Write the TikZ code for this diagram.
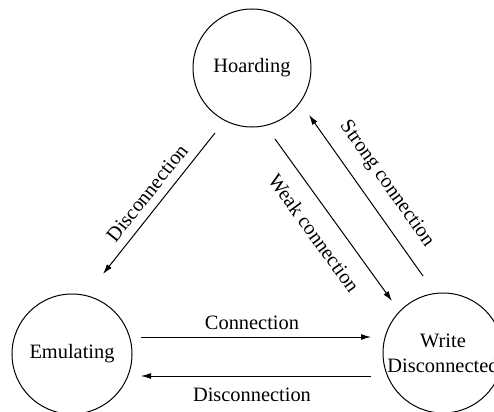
\documentclass[tikz,border=0pt]{standalone}
\usepackage{fontspec}
\setmainfont{Liberation Serif}
\usetikzlibrary{arrows.meta}
\begin{document}
\begin{tikzpicture}[x=0.5pt,y=-0.5pt,
  font=\fontsize{10.2}{12.5}\selectfont,
  state/.style={draw,circle,line width=0.5pt,minimum size=59pt,inner sep=0pt,align=center},
  trans/.style={line width=0.5pt,-{Latex[length=5pt,width=3pt]}},
  lbl/.style={inner sep=0pt}]
\useasboundingbox (0,0) rectangle (494,412);
\clip (0,0) rectangle (494,412);
% states
\node[state,minimum size=59pt] (H) at (252,68) {Hoarding};
\node[state,minimum size=60pt] (E) at (72,354) {Emulating};
\node[state,minimum size=60pt] (W) at (443,353) {Write\\Disconnected};
% end points of the transitions
\coordinate (hd1) at (215,133); \coordinate (hd2) at (103,274);
\coordinate (hw1) at (275,139); \coordinate (hw2) at (392,301);
\coordinate (wh1) at (423,276); \coordinate (wh2) at (309,115);
\coordinate (ew1) at (141,337); \coordinate (ew2) at (371,337);
\coordinate (we1) at (371,376); \coordinate (we2) at (141,376);
% transitions
\draw[trans] (hd1) -- (hd2);
\draw[trans] (hw1) -- (hw2);
\draw[trans] (wh1) -- (wh2);
\draw[trans] (ew1) -- (ew2);
\draw[trans] (we1) -- (we2);
% labels
\node[lbl,rotate=51.5] (lhd) at (147,193) {Disconnection};
\node[lbl,rotate=-54.2] (lhw) at (314,233) {Weak connection};
\node[lbl,rotate=-54.7] (lwh) at (386.5,184) {Strong connection};
\node[lbl] (lew) at (252,323) {Connection};
\node[lbl] (lwe) at (252,395) {Disconnection};
\end{tikzpicture}
\end{document}
